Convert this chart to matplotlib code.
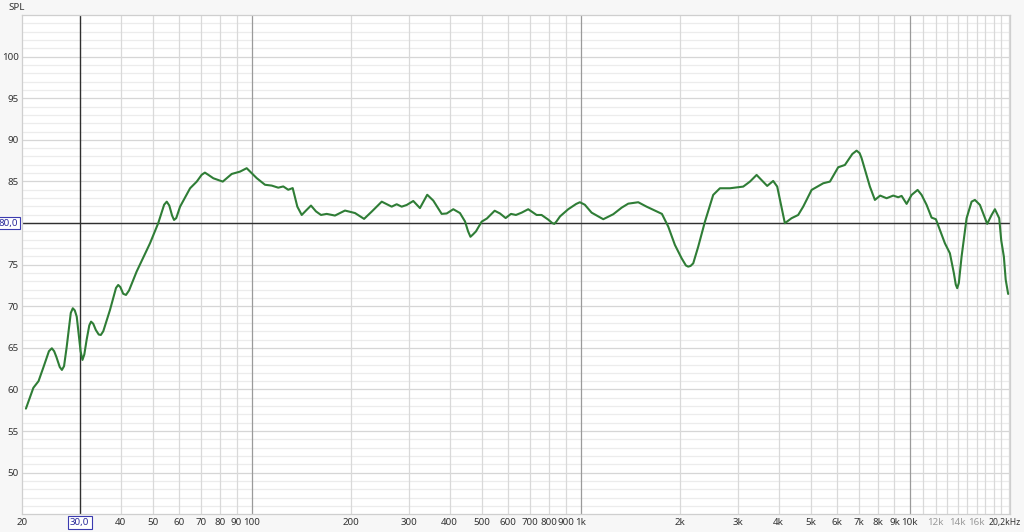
import numpy as np
import matplotlib
matplotlib.use("Agg")
import matplotlib.pyplot as plt
from matplotlib import transforms

plt.rcParams['font.family'] = ['Noto Sans', 'DejaVu Sans']

# ------------------------------------------------------------------------------------- #
# measured response (read off the reference)
freq = [20.6, 21.7, 22.5, 23.3, 24.2, 24.7, 25.1, 25.5, 26.1, 26.5, 26.9, 27.4,
        28.2, 28.6, 29.0, 29.4, 30.2, 30.6, 31.0, 31.5, 32.1, 32.5, 33.0, 33.6,
        34.3, 34.8, 35.4, 37.1, 38.7, 39.3, 39.9, 40.7, 41.5, 42.4, 44.7, 49.1,
        52.0, 54.2, 55.2, 56.2, 57.3, 58.1, 59.0, 60.6, 65.0, 68.1, 70.5, 72.1,
        73.8, 76.5, 81.7, 87.0,
        92.2, 96.6, 103.6, 109.8, 115.1, 120.5, 124.8, 129.2, 133.3, 137.7,
        142.0, 146.3, 151.5, 156.9, 162.5, 169.1, 179.2, 192.2, 206.2, 219.7,
        231.7, 248.6, 266.5, 276.0, 285.8, 296.0, 310.0, 324.8, 341.8, 356.6,
        378.2, 391.7, 410.2, 429.8, 445.2, 455.0, 462.6, 470.0, 480.8, 500.4, 519.2, 548,
        568.8, 591.8, 614.2, 636, 662, 693, 735, 761, 798, 820, 832, 845,
        866, 917, 970, 995, 1030, 1080, 1172, 1257, 1333, 1396, 1497, 1587,
        1683, 1767, 1847, 1935, 2028, 2090, 2124, 2160, 2200, 2278, 2388, 2530,
        2652, 2844, 3122, 3272, 3428, 3692, 3850, 3960, 4100, 4178, 4250, 4378,
        4586, 4750, 5038, 5466, 5728, 6068, 6360, 6700, 6902, 7050, 7148, 7576,
        7846, 8142, 8516, 8920, 9236, 9460, 9796, 10146, 10580, 10880,
        11268, 11668, 12024, 12366, 12806, 13262, 13638, 13820, 13960, 14120, 14394, 14908,
        15438, 15800, 16364, 17220, 17758, 18176, 18730, 19000, 19350, 19600,
        19940]
spl = [57.7, 60.2, 61.0, 62.7, 64.6, 64.95, 64.6, 63.9, 62.7, 62.35, 62.8, 65.1,
       69.2, 69.76, 69.5, 68.75, 64.6, 63.55, 64.2, 65.95, 67.7, 68.15, 67.9, 67.15,
       66.6, 66.55, 67.0, 69.55, 72.2, 72.56, 72.3, 71.5, 71.36, 71.9, 74.16, 77.57,
       79.98, 82.2, 82.57, 82.1, 80.9, 80.37, 80.6, 81.97, 84.18, 84.98, 85.8, 86.06,
       85.8, 85.38, 84.98, 85.9,
       86.18, 86.59, 85.4, 84.6, 84.5, 84.25, 84.4, 84.0, 84.2, 81.97,
       80.97, 81.5, 82.1, 81.4, 80.97, 81.1, 80.9, 81.5, 81.2, 80.5,
       81.37, 82.57, 81.97, 82.26, 81.97, 82.17, 82.65, 81.8, 83.4, 82.7,
       81.1, 81.15, 81.66, 81.2, 80.2, 79.0, 78.35, 78.6, 79.0, 80.17, 80.55, 81.48,
       81.15, 80.6, 81.1, 80.97, 81.25, 81.66, 80.97, 80.97, 80.4, 80.0, 79.9, 80.2,
       80.8, 81.66, 82.3, 82.5, 82.2, 81.25, 80.46, 81.06, 81.85, 82.33, 82.5, 81.97,
       81.49, 81.1, 79.57, 77.37, 75.77, 74.9, 74.76, 74.85, 75.16, 77.16, 80.17, 83.38,
       84.18, 84.18, 84.38, 84.98, 85.78, 84.46, 85.06, 84.38, 81.5, 79.98, 80.2, 80.58,
       80.97, 81.97, 83.98, 84.78, 84.98, 86.7, 86.98, 88.3, 88.7, 88.4, 87.8, 84.38,
       82.78, 83.3, 82.98, 83.3, 83.1, 83.26, 82.3, 83.38, 83.98, 83.38,
       82.18, 80.65, 80.46, 79.17, 77.57, 76.37, 73.97, 72.6, 72.17, 72.8, 75.97, 80.58,
       82.57, 82.78, 82.18, 79.9, 80.97, 81.66, 80.58, 77.9, 75.96, 73.2,
       71.48]

x_tick_pos = [20, 40, 50, 60, 70, 80, 90, 100, 200, 300, 400, 500, 600, 700, 800, 900,
              1000, 2000, 3000, 4000, 5000, 6000, 7000, 8000, 9000, 10000,
              12000, 14000, 16000]
x_tick_lab = ['20', '40', '50', '60', '70', '80', '90', '100', '200', '300', '400', '500',
              '600', '700', '800', '900', '1k', '2k', '3k', '4k', '5k', '6k', '7k', '8k',
              '9k', '10k', '12k', '14k', '16k']
y_ticks = [50, 55, 60, 65, 70, 75, 80, 85, 90, 95, 100]
y_tick_lab = ['50', '55', '60', '65', '70', '75', '', '85', '90', '95', '100']

cursor_f = 30.0
cursor_db = 80.0

# ------------------------------------------------------------------------------------- #
fig = plt.figure(figsize=(10.24, 5.32), dpi=100, facecolor='#f7f7f7')
ax = fig.add_axes([21.7 / 1024, 1 - 514.3 / 532, (1010 - 21.7) / 1024, (514.3 - 15) / 532])
ax.set_facecolor('white')
ax.set_xscale('log')
ax.set_xlim(20, 20200)
ax.set_ylim(45, 105)

# grid lines
for v in range(46, 105):
    c = '#d6d6d6' if v % 5 == 0 else '#ececec'
    ax.axhline(v, color=c, lw=0.9, zorder=0)
grid_f = list(range(40, 100, 10)) + list(range(200, 1000, 100)) + \
    list(range(2000, 10000, 1000)) + list(range(11000, 20001, 1000))
for f in grid_f:
    ax.axvline(f, color='#d9d9d9', lw=0.9, zorder=0)
for f in [100, 1000, 10000]:
    ax.axvline(f, color='#9a9a9a', lw=0.9, zorder=0)

# cursors
ax.axvline(cursor_f, color='#303030', lw=1.0, zorder=1)
ax.axhline(cursor_db, color='#303030', lw=1.0, zorder=1)

ax.plot(freq, spl, color='#2f7d36', lw=1.5, zorder=3,
        solid_joinstyle='round', solid_capstyle='round')

# axis formatting
ax.set_xticks(x_tick_pos, x_tick_lab)
ax.set_xticks([], minor=True)
ax.set_yticks(y_ticks, y_tick_lab)
ax.set_yticks([], minor=True)
ax.tick_params(length=0, labelsize=7, colors='#333333', pad=3)
ax.tick_params(axis='y', pad=2)
for lab in ax.get_xticklabels()[-3:]:
    lab.set_color('#9a9a9a')
for s in ax.spines.values():
    s.set_color('#cfcfcf')
    s.set_linewidth(0.9)

# right-hand end label sits past the last tick
fig.text(1021 / 1024, 1 - 517.5 / 532, '20,2kHz', ha='right', va='top',
         fontsize=6.2, color='#333333')
trx = transforms.blended_transform_factory(ax.transData, ax.transAxes)
box = dict(boxstyle='square,pad=0.25', fc='white', ec='#3b3bb0', lw=0.8)
ax.text(cursor_f, -0.0075, '30,0', transform=trx, ha='center', va='top',
        fontsize=7, color='#2a2a9a', bbox=box)
try_ = transforms.blended_transform_factory(ax.transAxes, ax.transData)
ax.text(-0.0035, cursor_db, '80,0', transform=try_, ha='right', va='center',
        fontsize=7, color='#2a2a9a', bbox=dict(boxstyle='square,pad=0.15', fc='white',
                                               ec='#3b3bb0', lw=0.8))
fig.text(8 / 1024, 1 - 8 / 532, 'SPL', ha='left', va='center', fontsize=7, color='#333333')

fig.savefig('out.png', dpi=100, facecolor=fig.get_facecolor())
